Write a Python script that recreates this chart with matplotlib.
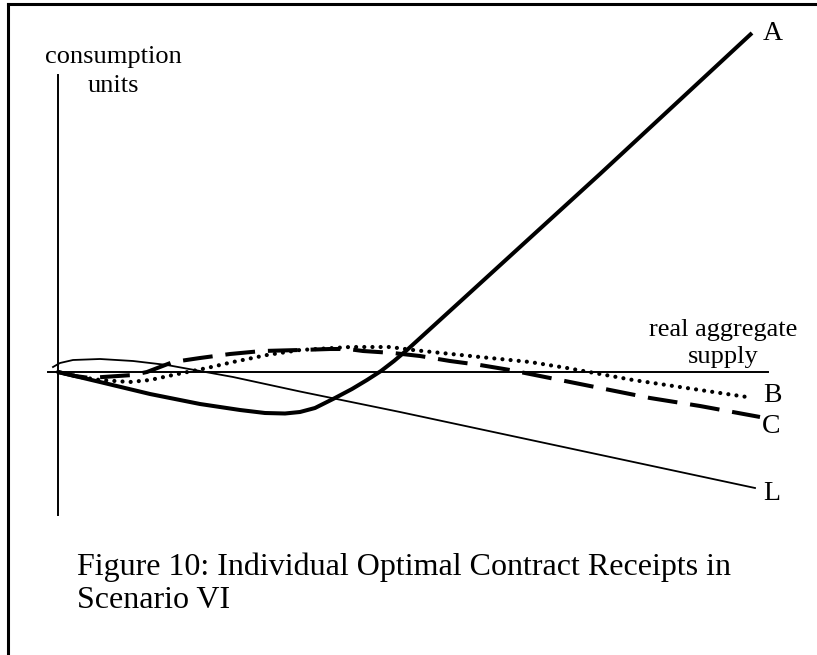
import matplotlib
matplotlib.use('Agg')
from matplotlib import pyplot as plt
from matplotlib.lines import Line2D

plt.rcParams['font.family'] = ['Liberation Serif', 'DejaVu Serif']

# Kurvene lest av figuren (x = real aggregate supply, y = consumption units)
a_x = [0, 4.2, 9.2, 14.2, 18.2, 20.7, 22.7, 24.2, 25.7, 27.7, 29.4, 30.9,
       32.3, 33.6, 34.9, 40.5, 54.2, 69.4]
a_y = [0, -1.0, -2.2, -3.2, -3.8, -4.1, -4.15, -4.0, -3.6, -2.6, -1.7, -0.8,
       0.1, 1.1, 2.2, 7.3, 19.8, 33.9]

b_x = [0, 2.2, 4.2, 7.2, 9.2, 11.5, 14.9, 17.5, 20.9, 24.2, 29.2, 33.2,
       35.5, 42.2, 47.2, 50.9, 57.5, 64.2, 68.9]
b_y = [0, -0.5, -0.8, -1.0, -0.8, -0.3, 0.4, 1.0, 1.7, 2.2, 2.5, 2.5,
       2.2, 1.5, 1.0, 0.4, -0.8, -1.8, -2.5]

c_x = [0, 1.7, 3.2, 4.5, 7.5, 8.9, 10.2, 11.5, 14.2, 17.2, 20.4, 24.2,
       27.2, 29.0, 30.5, 33.5, 36.2, 39.2, 42.2, 45.2, 49.2, 54.2, 59.2,
       64.2, 70.2]
c_y = [0, -0.4, -0.6, -0.5, -0.3, 0, 0.5, 1.0, 1.4, 1.8, 2.1, 2.2,
       2.3, 2.3, 2.1, 1.9, 1.6, 1.1, 0.7, 0.2, -0.6, -1.6, -2.6,
       -3.4, -4.5]

l_x = [-0.5, 0.2, 1.5, 4.2, 7.5, 10.9, 14.2, 17.5, 24.2, 34.2, 69.7]
l_y = [0.5, 0.9, 1.2, 1.3, 1.1, 0.7, 0.1, -0.5, -1.95, -4.0, -11.6]

# Navn på kurvene og hvor de står (x, grunnlinje)
navn = ['A', 'B', 'C', 'L']
navn_x = [70.5, 70.5, 70.4, 70.5]
navn_y = [33.2, -3.0, -6.1, -12.8]

fig = plt.figure(figsize=(8.17, 6.55), dpi=100)
ax = fig.add_axes([0, 0, 1, 1])
ax.set_xlim(-5.8, 75.9)
ax.set_ylim(-28.3, 37.2)
ax.axis('off')

# Akser
ax.plot([-1.0, 71.0], [0, 0], color='black', lw=1.4)
ax.plot([0, 0], [29.7, -14.3], color='black', lw=1.4)

# Kurver
ax.plot(l_x, l_y, color='black', lw=1.3)
ax.plot(a_x, a_y, color='black', lw=2.9, solid_capstyle='butt',
        solid_joinstyle='round')
ax.plot(c_x, c_y, color='black', lw=2.9, dashes=(7.4, 3.2))
ax.plot(b_x, b_y, color='black', lw=3.0, dashes=(0.01, 1.95),
        dash_capstyle='round')

for t, x, y in zip(navn, navn_x, navn_y):
    ax.text(x, y, t, fontsize=20, ha='left', va='baseline')

ax.text(5.55, 30.9, 'consumption', fontsize=19, ha='center', va='baseline')
ax.text(5.55, 28.0, 'units', fontsize=19, ha='center', va='baseline')
ax.text(66.5, 3.6, 'real aggregate', fontsize=19, ha='center', va='baseline')
ax.text(66.5, 0.9, 'supply', fontsize=19, ha='center', va='baseline')

ax.text(1.9, -20.3, 'Figure 10: Individual Optimal Contract Receipts in',
        fontsize=23, ha='left', va='baseline')
ax.text(1.9, -23.6, 'Scenario VI', fontsize=23, ha='left', va='baseline')

# Ramme (venstre og topp)
fig.add_artist(Line2D([8/817, 8/817], [0, 1 - 4/655], color='black', lw=2.2))
fig.add_artist(Line2D([8/817, 1], [1 - 4/655, 1 - 4/655], color='black', lw=2.2))

fig.savefig('out.png', dpi=100)
